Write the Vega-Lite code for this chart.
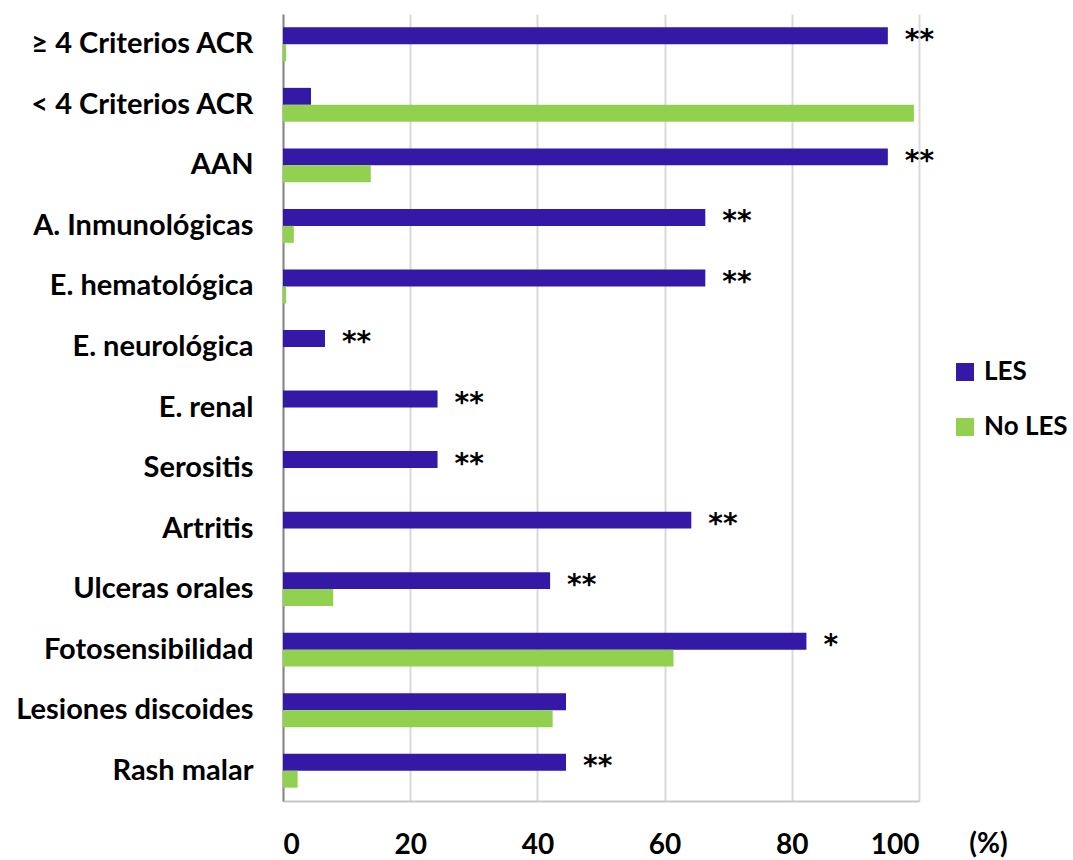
{
  "$schema": "https://vega.github.io/schema/vega-lite/v6.json",
  "autosize": {"type": "none"},
  "padding": {"left": 283, "top": 14, "right": 154, "bottom": 59},
  "width": 636,
  "height": 787,
  "data": {
    "values": [
      {"cat": "≥ 4 Criterios ACR", "grupo": "LES", "valor": 95.1, "sig": "**"},
      {"cat": "≥ 4 Criterios ACR", "grupo": "No LES", "valor": 0.5, "sig": ""},
      {"cat": "< 4 Criterios ACR", "grupo": "LES", "valor": 4.4, "sig": ""},
      {"cat": "< 4 Criterios ACR", "grupo": "No LES", "valor": 99.2, "sig": ""},
      {"cat": "AAN", "grupo": "LES", "valor": 95.1, "sig": "**"},
      {"cat": "AAN", "grupo": "No LES", "valor": 13.8, "sig": ""},
      {"cat": "A. Inmunológicas", "grupo": "LES", "valor": 66.4, "sig": "**"},
      {"cat": "A. Inmunológicas", "grupo": "No LES", "valor": 1.7, "sig": ""},
      {"cat": "E. hematológica", "grupo": "LES", "valor": 66.4, "sig": "**"},
      {"cat": "E. hematológica", "grupo": "No LES", "valor": 0.5, "sig": ""},
      {"cat": "E. neurológica", "grupo": "LES", "valor": 6.6, "sig": "**"},
      {"cat": "E. neurológica", "grupo": "No LES", "valor": 0, "sig": ""},
      {"cat": "E. renal", "grupo": "LES", "valor": 24.3, "sig": "**"},
      {"cat": "E. renal", "grupo": "No LES", "valor": 0, "sig": ""},
      {"cat": "Serositis", "grupo": "LES", "valor": 24.3, "sig": "**"},
      {"cat": "Serositis", "grupo": "No LES", "valor": 0, "sig": ""},
      {"cat": "Artritis", "grupo": "LES", "valor": 64.2, "sig": "**"},
      {"cat": "Artritis", "grupo": "No LES", "valor": 0, "sig": ""},
      {"cat": "Ulceras orales", "grupo": "LES", "valor": 42.0, "sig": "**"},
      {"cat": "Ulceras orales", "grupo": "No LES", "valor": 7.9, "sig": ""},
      {"cat": "Fotosensibilidad", "grupo": "LES", "valor": 82.3, "sig": "*"},
      {"cat": "Fotosensibilidad", "grupo": "No LES", "valor": 61.4, "sig": ""},
      {"cat": "Lesiones discoides", "grupo": "LES", "valor": 44.5, "sig": ""},
      {"cat": "Lesiones discoides", "grupo": "No LES", "valor": 42.4, "sig": ""},
      {"cat": "Rash malar", "grupo": "LES", "valor": 44.5, "sig": "**"},
      {"cat": "Rash malar", "grupo": "No LES", "valor": 2.3, "sig": ""}
    ]
  },
  "encoding": {
    "y": {
      "field": "cat",
      "type": "nominal",
      "sort": null,
      "scale": {"paddingInner": 0.44, "paddingOuter": 0.22},
      "axis": {
        "title": null,
        "ticks": false,
        "domainColor": "#888888",
        "domainWidth": 2,
        "labelFont": "Lato",
        "labelFontWeight": "bold",
        "labelFontSize": 29,
        "labelColor": "#000000",
        "labelPadding": 30,
        "labelLimit": 0,
        "grid": false
      }
    },
    "x": {
      "field": "valor",
      "type": "quantitative",
      "scale": {"domain": [0, 100], "nice": false},
      "axis": {
        "values": [0, 20, 40, 60, 80, 100],
        "title": "(%)",
        "titleFont": "Lato",
        "titleFontWeight": "bold",
        "titleFontSize": 28,
        "titleColor": "#000000",
        "titleX": 705,
        "titleY": 43,
        "titleAlign": "center",
        "titleBaseline": "middle",
        "ticks": false,
        "domainColor": "#c8c8c8",
        "domainWidth": 2,
        "grid": true,
        "gridColor": "#d9d9d9",
        "gridWidth": 2,
        "labelFont": "Lato",
        "labelFontWeight": "bold",
        "labelFontSize": 28,
        "labelColor": "#000000",
        "labelPadding": 30
      }
    }
  },
  "layer": [
    {
      "mark": {"type": "bar", "strokeWidth": 1},
      "encoding": {
        "yOffset": {"field": "grupo", "type": "nominal", "sort": ["LES", "No LES"]},
        "color": {
          "field": "grupo",
          "type": "nominal",
          "scale": {"domain": ["LES", "No LES"], "range": ["#3419a6", "#92d050"]},
          "legend": {
            "title": null,
            "orient": "none",
            "legendX": 669,
            "legendY": 345,
            "symbolType": "square",
            "symbolSize": 324,
            "symbolStrokeWidth": 0,
            "labelFont": "Lato",
            "labelFontWeight": "bold",
            "labelFontSize": 26,
            "labelColor": "#000000",
            "rowPadding": 29,
            "labelOffset": 6,
            "labelLimit": 0
          }
        }
      }
    },
    {
      "transform": [{"filter": "datum.grupo == 'LES' && datum.sig != ''"}],
      "mark": {
        "type": "text",
        "align": "left",
        "baseline": "alphabetic",
        "dx": 17,
        "dy": 13,
        "font": "DejaVu Sans",
        "fontWeight": "bold",
        "fontSize": 28,
        "color": "#000000"
      },
      "encoding": {
        "yOffset": {"datum": "LES", "scale": {"domain": ["LES", "No LES"]}},
        "text": {"field": "sig"}
      }
    }
  ],
  "config": {"view": {"stroke": null}}
}
